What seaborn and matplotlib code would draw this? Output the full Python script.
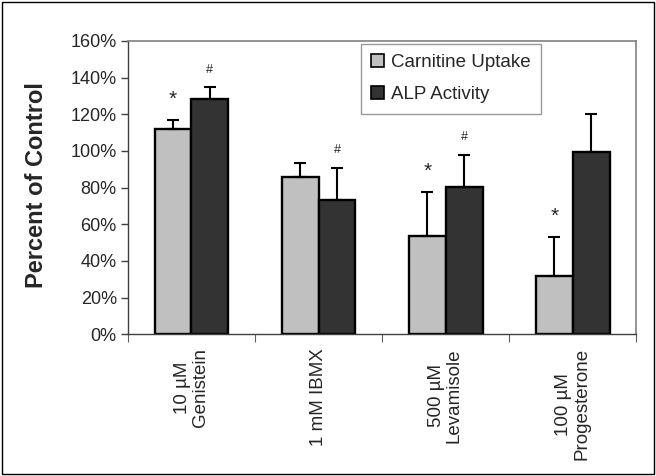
import pandas as pd
import numpy as np
import matplotlib
matplotlib.use('Agg')
import matplotlib.pyplot as plt
import seaborn as sns
from matplotlib.patches import Rectangle

# Data (percent of control)
treatments = ['10 µM\nGenistein', '1 mM IBMX', '500 µM\nLevamisole', '100 µM\nProgesterone']
carnitine = [112.2, 86.0, 53.3, 31.7]
carnitine_err = [4.8, 7.3, 24.5, 21.5]
alp = [128.2, 73.2, 80.5, 99.6]
alp_err = [6.4, 17.4, 17.4, 20.6]
# significance marks above the error bars
carn_marks = ['*', '', '*', '*']
alp_marks = ['#', '#', '#', '']

sns.set_style('white')
plt.rcParams['font.family'] = ['Liberation Sans', 'DejaVu Sans']

df = pd.DataFrame({
    'Treatment': treatments * 2,
    'Series': ['Carnitine Uptake'] * 4 + ['ALP Activity'] * 4,
    'Value': carnitine + alp,
})

fig = plt.figure(figsize=(6.56, 4.76), dpi=100)
ax = fig.add_axes([0.195, 0.298, 0.775, 0.616])

sns.barplot(data=df, x='Treatment', y='Value', hue='Series',
            palette=['#C0C0C0', '#333333'], width=0.58, ax=ax,
            edgecolor='black', linewidth=1.7, errorbar=None)

# upward error bars and significance marks
for container, vals, errs, marks in zip(ax.containers, [carnitine, alp],
                                        [carnitine_err, alp_err],
                                        [carn_marks, alp_marks]):
    for bar, v, e, m in zip(container.patches, vals, errs, marks):
        xc = bar.get_x() + bar.get_width() / 2
        ax.errorbar(xc, v, yerr=[[0], [e]], fmt='none', ecolor='black',
                    elinewidth=1.5, capsize=4.5, capthick=1.5)
        if m == '*':
            ax.text(xc, v + e + 8, '*', ha='center', va='baseline', fontsize=15)
        elif m == '#':
            ax.text(xc, v + e + 8, '#', ha='center', va='baseline', fontsize=9)

ax.set_ylim(0, 160)
ax.set_xlim(-0.5, 3.5)
ax.set_yticks(np.arange(0, 161, 20))
ax.set_yticklabels([f'{t}%' for t in range(0, 161, 20)], fontsize=13)
ax.set_xticks(range(4))
ax.set_xticklabels(treatments, rotation=90, fontsize=13.5, ha='center', va='top',
                   linespacing=1.05)
ax.tick_params(axis='x', length=0, pad=10)
ax.tick_params(axis='y', length=5, width=1, direction='out', left=True,
               color='#404040', pad=3)
# category separator ticks
ax.set_xticks([-0.5, 0.5, 1.5, 2.5, 3.5], minor=True)
ax.tick_params(axis='x', which='minor', length=6, width=0.8, color='#606060',
               direction='out', bottom=True)

ax.set_xlabel('')
ax.set_ylabel('Percent of Control', fontsize=17, fontweight='bold')
ax.yaxis.set_label_coords(-0.157, 0.51)

for side in ['top', 'right']:
    ax.spines[side].set_color('#808080')
    ax.spines[side].set_linewidth(1.2)
for side in ['left', 'bottom']:
    ax.spines[side].set_color('#404040')
    ax.spines[side].set_linewidth(1.0)

leg = ax.legend(loc='upper left', bbox_to_anchor=(0.458, 0.99), fontsize=13.5,
                frameon=True, fancybox=False, edgecolor='#808080',
                handlelength=0.7, handleheight=0.7, handletextpad=0.35,
                labelspacing=0.8, borderpad=0.55, borderaxespad=0)
leg.get_frame().set_linewidth(1.0)
for h in leg.legend_handles:
    h.set_edgecolor('black')
    h.set_linewidth(1.2)

# outer frame around the whole figure
fig.patches.append(Rectangle((0.003, 0.004), 0.994, 0.992, transform=fig.transFigure,
                             fill=False, edgecolor='black', linewidth=1.0))

fig.savefig('out.png', dpi=100)
